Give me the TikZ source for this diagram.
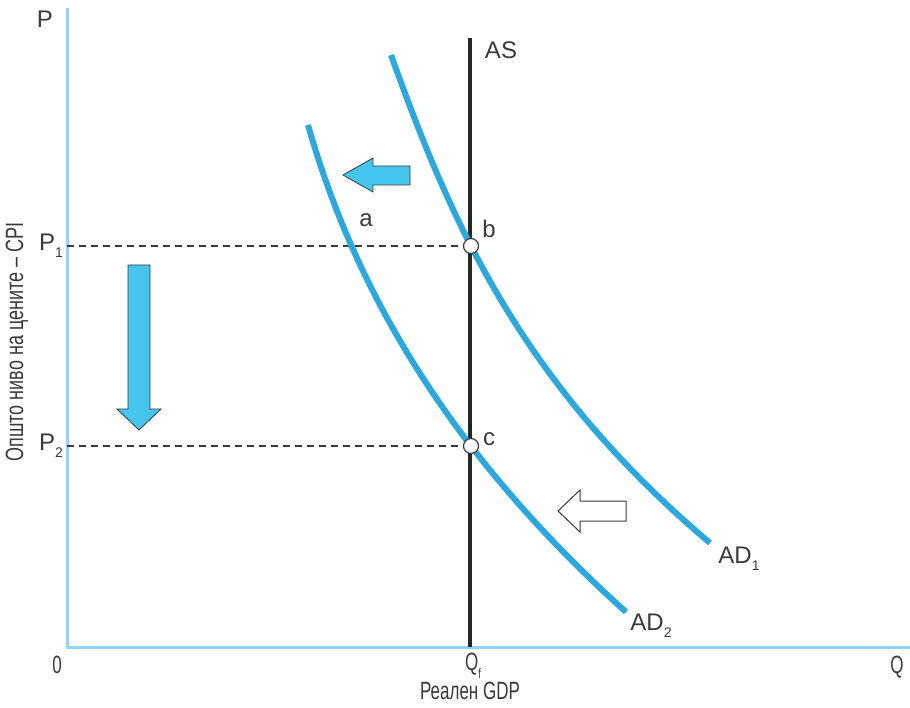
\documentclass[tikz,border=0pt]{standalone}
\usepackage{fontspec}
\setmainfont{Liberation Sans}
\newfontfamily\condfont[FakeStretch=0.68]{Liberation Sans}
\newfontfamily\condfontb[FakeStretch=0.72]{Liberation Sans}
\newcommand\sbs[1]{\raisebox{-0.3em}{\fontsize{14}{14}\selectfont #1}}
\definecolor{axisblue}{HTML}{8ED5F7}
\definecolor{curveblue}{HTML}{2AA8E0}
\definecolor{arrowblue}{HTML}{45C4EE}
\definecolor{darkgr}{HTML}{3A3A3A}
\begin{document}
\begin{tikzpicture}[x=1pt,y=-1pt,
  lbl/.style={font=\fontsize{24}{26}\selectfont, text=darkgr, inner sep=0pt},
  condlbl/.style={font=\condfont\fontsize{25}{27}\selectfont, text=darkgr, inner sep=0pt},
  axisline/.style={draw=axisblue, line width=3pt},
  adcurve/.style={draw=curveblue, line width=6pt},
  guide/.style={draw=darkgr, line width=1.5pt, dash pattern=on 7pt off 5pt},
  eqpt/.style={circle, draw=darkgr, fill=white, line width=1.2pt, minimum size=15pt, inner sep=0pt},
  fillarrow/.style={fill=arrowblue, draw=darkgr, line width=0.8pt, line join=miter},
  openarrow/.style={fill=white, draw=darkgr, line width=1pt, line join=miter}]
\useasboundingbox (0,0) rectangle (910,708);
% axes
\coordinate (O) at (67,647);
\coordinate (Ytop) at (67,8);
\coordinate (Xend) at (910,647);
\draw[axisline] (Ytop) -- (O) -- (Xend);
% AS
\coordinate (AStop) at (470,38);
\coordinate (ASbot) at (470,647);
\draw[line width=3.2pt, draw=black!85] (AStop) -- (ASbot);
% guide lines
\coordinate (P1y) at (67,246);
\coordinate (P2y) at (67,446);
\coordinate (bpt) at (471,246);
\coordinate (cpt) at (471,446);
\draw[guide] (P1y) -- (bpt);
\draw[guide] (P2y) -- (cpt);
% curves
\draw[adcurve] plot[domain=0:4.88, samples=80, variable=\u]
  ({391+36*\u+1.193*\u*\u+0.989*\u*\u*\u},{55+100*\u});
\draw[adcurve] plot[domain=0:4.87, samples=80, variable=\u]
  ({308+28.5*\u+5.748*\u*\u+0.3712*\u*\u*\u},{125+100*\u});
\node[eqpt] (b) at (bpt) {};
\node[eqpt] (c) at (cpt) {};
% labels
\node[lbl] (Plab) at (45,19) {P};
\node[lbl] (ASlab) at (501,50) {AS};
\node[lbl] (P1lab) at (51,246) {P\sbs{1}};
\node[lbl] (P2lab) at (51,446) {P\sbs{2}};
\node[lbl] (alab) at (366,220) {a};
\node[lbl] (blab) at (489,229) {b};
\node[lbl] (clab) at (489,439) {c};
\node[lbl] (AD1lab) at (739,559) {AD\sbs{1}};
\node[lbl] (AD2lab) at (651,626) {AD\sbs{2}};
\node[condlbl] (zero) at (57,665) {0};
\node[condlbl] (Qf) at (473,666) {Q\sbs{f}};
\node[condlbl] (Qlab) at (897,667) {Q};
\node[condlbl] (xlab) at (470,691) {Реален GDP};
\node[font=\condfontb\fontsize{25}{27}\selectfont, text=darkgr, inner sep=0pt, rotate=90] (ylab) at (17,342) {Општо ниво на цените – CPI};
% arrows
\draw[fillarrow] (343,175) -- (373,158) -- (373,166) -- (410,166) -- (410,185) -- (373,185) -- (373,192) -- cycle;
\draw[fillarrow] (139,430) -- (117,409) -- (128,409) -- (128,265) -- (150,265) -- (150,409) -- (161,409) -- cycle;
\draw[openarrow] (558,511) -- (580,490) -- (580,501) -- (626,501) -- (626,521) -- (580,521) -- (580,532) -- cycle;
\end{tikzpicture}
\end{document}
